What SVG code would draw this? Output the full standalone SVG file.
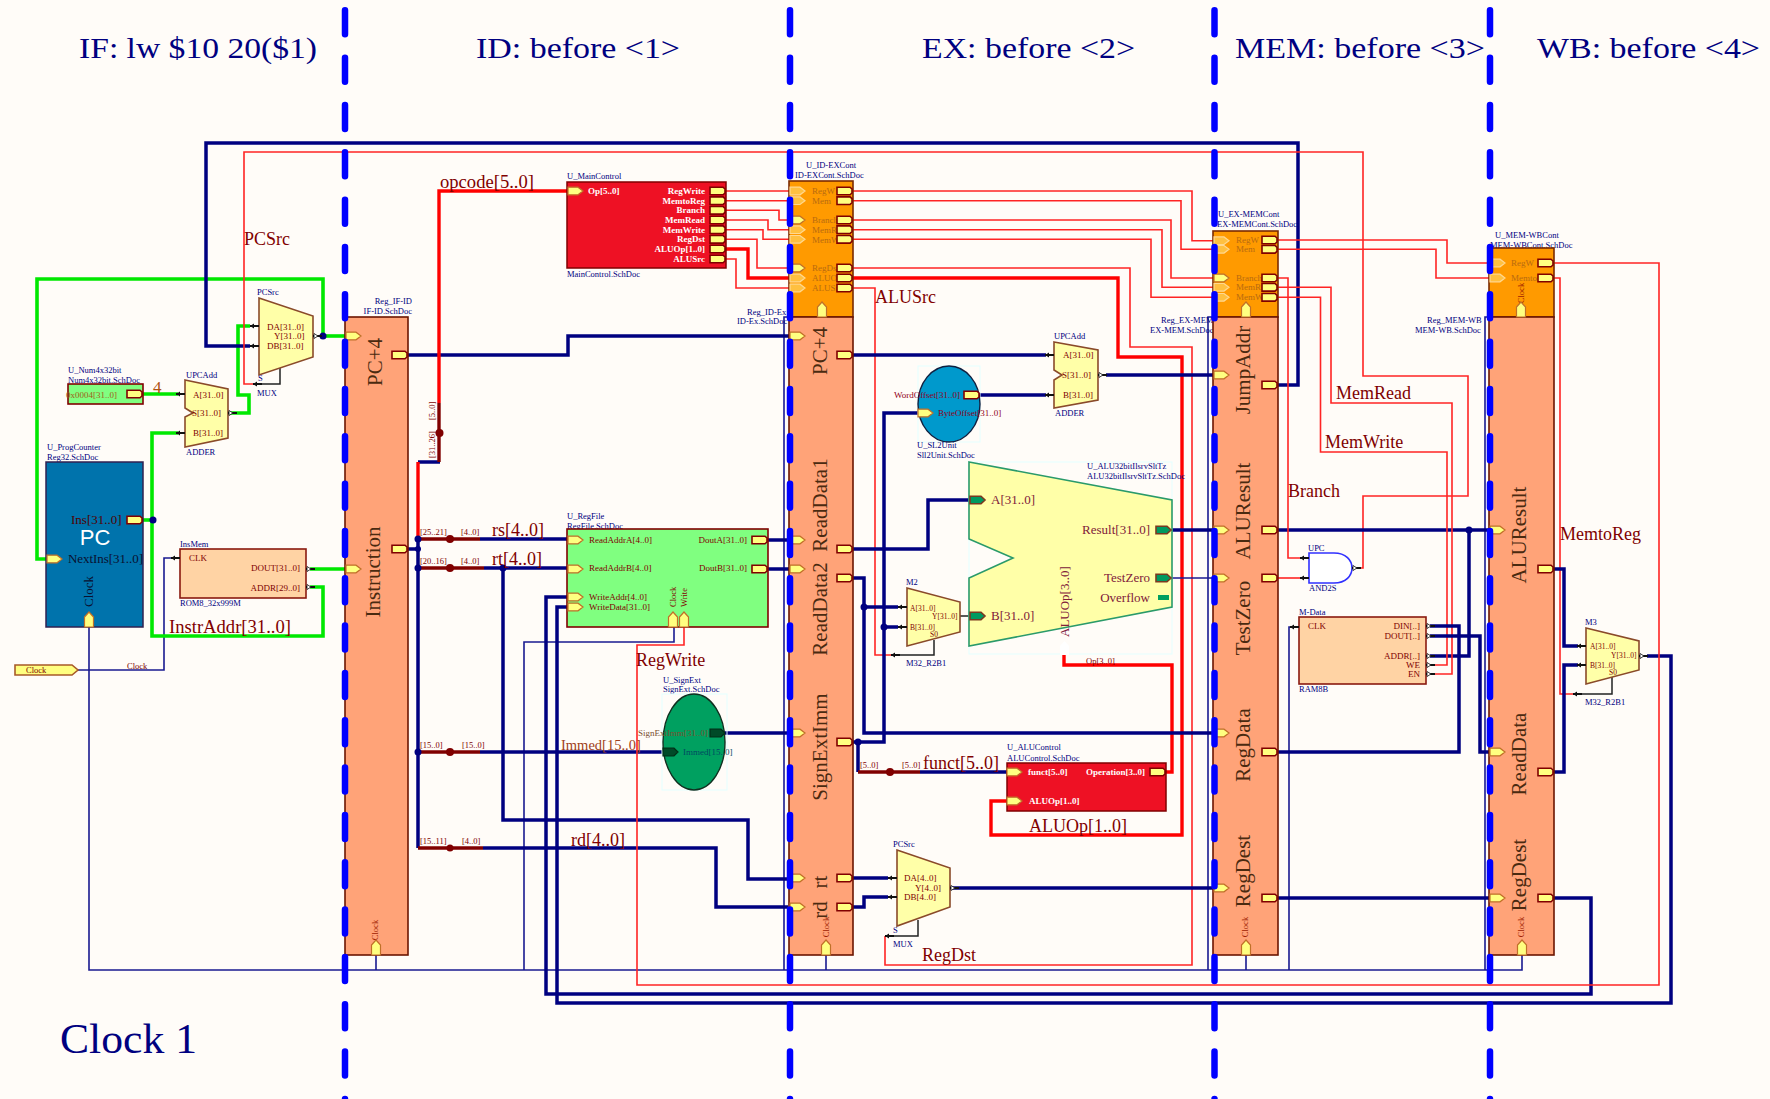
<svg xmlns="http://www.w3.org/2000/svg" width="1770" height="1099" viewBox="0 0 1770 1099">
<style>
text{font-family:"Liberation Serif","Times New Roman",serif}
.s{font-size:8.5px;fill:#000080}
.p{font-size:9px;fill:#800000}
.d{font-size:8.5px;fill:#800000}
.c{font-size:9px;fill:#b86a10}
.w{font-size:9px;fill:#fff;font-weight:bold}
.l{font-size:18px;fill:#800000}
.n{font-size:13px;fill:#500000}
.h{font-size:30px;fill:#000080}
.v{font-size:21px;fill:#4a2a10}
.ck{font-size:8.5px;fill:#a02000}
.e{text-anchor:end}
.m{text-anchor:middle}
.wire{fill:none;stroke-linejoin:miter}
.bb{stroke:#000080;stroke-width:3.5}
.tn{stroke:#1a1a90;stroke-width:1.6}
.rt{stroke:#ff2424;stroke-width:1.6}
.rb{stroke:#ff0000;stroke-width:3.4}
.gr{stroke:#00e800;stroke-width:3.6}
.dr{stroke:#800000;stroke-width:3.4}
.st{stroke:#222;stroke-width:1.5}
.reg{fill:#ffa378;stroke:#6b1500;stroke-width:1.6}
.ctl{fill:#ff9a00;stroke:#7a2a00;stroke-width:1.6}
.red{fill:#ee1124;stroke:#800000;stroke-width:1.5}
.mem{fill:#ffd3a4;stroke:#8a1a10;stroke-width:1.6}
.pale{fill:#ffffa8;stroke:#8a4a2a;stroke-width:1.6}
.dash{stroke:#0000ff;stroke-width:6.5;stroke-linecap:round;stroke-dasharray:24 23.33;fill:none}
.pi{fill:#ffff80;stroke:#c07028;stroke-width:1.2}
.po{fill:#ffff80;stroke:#800000;stroke-width:1.6}
.ci{fill:#ffc040;stroke:#ffd890;stroke-width:1.2}
.pg{fill:#009a60;stroke:#7a3a20;stroke-width:1.6}
.pk{fill:#004a28;stroke:#003018;stroke-width:1.2}
.dot{fill:#000080}
.dotr{fill:#800000}
</style>
<defs>
<path id="pi" class="pi" d="M0,-3.8H10L15,0L10,3.8H0Z"/>
<path id="ci" class="ci" d="M0,-3.8H10L15,0L10,3.8H0Z"/>
<path id="po" class="po" d="M0,-3.8H13L15,-2V2L13,3.8H0Z"/>
<path id="pu" class="pi" d="M-4.5,0V-10L0,-15L4.5,-10V0Z"/>
<path id="pg" class="pg" d="M0,-3.8H11L15,0L11,3.8H0Z"/>
<path id="pk" class="pk" d="M0,-3.8H11L15,0L11,3.8H0Z"/>
<g id="pin"><path d="M-9,0H0" stroke="#111" stroke-width="2" fill="none"/><path d="M-5,-2.5L-9,0L-5,2.5Z" fill="#111"/></g>
<g id="pot"><path d="M0,0H9" stroke="#111" stroke-width="2" fill="none"/><path d="M1,-2.5L5,0L1,2.5Z" fill="#fff" stroke="#111" stroke-width=".8"/></g>
</defs>
<rect width="1770" height="1099" fill="#fffcf8"/>

<g id="headers">
<text class="h" x="79" y="58" textLength="238" lengthAdjust="spacingAndGlyphs">IF: lw $10 20($1)</text>
<text class="h" x="476" y="58" textLength="204" lengthAdjust="spacingAndGlyphs">ID: before &lt;1&gt;</text>
<text class="h" x="922" y="58" textLength="213" lengthAdjust="spacingAndGlyphs">EX: before &lt;2&gt;</text>
<text class="h" x="1235" y="58" textLength="250" lengthAdjust="spacingAndGlyphs">MEM: before &lt;3&gt;</text>
<text class="h" x="1537" y="58" textLength="223" lengthAdjust="spacingAndGlyphs">WB: before &lt;4&gt;</text>
<text x="60" y="1053" font-size="42" fill="#000080" textLength="137" lengthAdjust="spacingAndGlyphs">Clock 1</text>
</g>

<g id="connectors" class="wire">
<!-- clock network -->
<path class="tn" d="M78,670H164V558H172"/>
<path class="tn" d="M89,627V970H1522V955"/>
<path class="tn" d="M376,955V970M826,955V970M1246,955V970"/>
<path class="tn" d="M674,627V642H524V970"/>
<path class="tn" d="M789,317H784V970M1213,317H1208V970M1489,317H1485V970"/>
<path class="tn" d="M1289,970V627H1297"/>
<!-- green IF -->
<path class="gr" d="M323,336V279H37V559H47"/>
<path class="gr" d="M323,336H346"/>
<path class="gr" d="M228,413H249V395H238V326H250"/>
<path class="gr" d="M143,394H178"/>
<path class="gr" d="M178,433H152V636H323V587H310"/>
<path class="gr" d="M142,520H153"/>
<path class="gr" d="M310,569H346"/>
<!-- big navy loops -->
<path class="bb" d="M1278,385H1298V143H206V346H250"/>
<path class="bb" d="M407,355H568V336H790"/>
<path class="bb" d="M1554,898H1591V994H546V597H568"/>
<path class="bb" d="M1647,656H1671V1003H557V607H568"/>
<!-- decode bus -->
<path class="bb" d="M407,549H418"/>
<path class="bb" d="M418,539V848"/>
<path class="bb" d="M418,462H440"/>
<path class="rb" d="M418,462V539"/>
<path class="rb" d="M568,191H439V403"/>
<path class="dr" d="M439,403V462"/>
<path class="dr" d="M418,539H480"/>
<path class="bb" d="M480,539H568"/>
<path class="dr" d="M418,568H484"/>
<path class="bb" d="M484,568H568"/>
<path class="bb" d="M503,568V820H748V879H788"/>
<path class="dr" d="M418,752H480"/>
<path class="bb" d="M480,752H662"/>
<path class="dr" d="M418,848H483"/>
<path class="bb" d="M483,848H716V907H788"/>
<path class="bb" d="M725,733H790"/>
<path class="bb" d="M768,540H790"/>
<path class="bb" d="M768,569H790"/>
<!-- RegWrite return -->
<path class="rt" d="M1554,263H1659V985H637V645H684V627"/>
<!-- main control to ID-EX -->
<path class="rt" d="M724,191H790"/>
<path class="rt" d="M724,200.7H790"/>
<path class="rt" d="M724,210.3H779V220H790"/>
<path class="rt" d="M724,220H768V229.7H790"/>
<path class="rt" d="M724,229.7H763V239.3H790"/>
<path class="rt" d="M724,239.3H757V268H790"/>
<path class="rb" d="M724,249H748V278H790"/>
<path class="rt" d="M724,259H736V288H790"/>
<!-- ID-EX to EX-MEM -->
<path class="rt" d="M853,191H1192V240.7H1214"/>
<path class="rt" d="M853,200.7H1181V249.3H1214"/>
<path class="rt" d="M853,220H1171V278H1214"/>
<path class="rt" d="M853,229.7H1162V287.3H1214"/>
<path class="rt" d="M853,239.3H1151V297.3H1214"/>
<path class="rt" d="M853,268H1130V347H1192V965H885V936"/>
<path class="rb" d="M853,278H1118V357H1182V835H991V801H1007"/>
<path class="rt" d="M853,288H875V655H900"/>
<path class="rb" d="M1064,655V665H1172V772H1165"/>
<!-- EX stage -->
<path class="bb" d="M853,355H1046"/>
<path class="bb" d="M979,395H1046"/>
<path class="bb" d="M1106,375H1214"/>
<path class="bb" d="M853,549H928V500H970"/>
<path class="bb" d="M853,578H864V733H1214"/>
<path class="bb" d="M864,607H898"/>
<path class="bb" d="M853,742H884V413H918"/>
<path class="bb" d="M884,627H898"/>
<path class="st" d="M960,616H970"/>
<path class="st" d="M900,655H934V640"/>
<path class="bb" d="M858,742V772"/>
<path class="dr" d="M858,772H920"/>
<path class="bb" d="M920,772H1007"/>
<path class="bb" d="M1170,530H1214"/>
<path class="tn" d="M1170,578H1214"/>
<path class="bb" d="M853,878H888"/>
<path class="bb" d="M853,907H864V897H888"/>
<path class="bb" d="M950,888H1214"/>
<path class="st" d="M918,920V936H888"/>
<path class="st" d="M280,368V384H255"/>
<!-- PCSrc -->
<path class="rt" d="M1352,568H1363V496H1468V376H1363V152H244V384H255"/>
<!-- MEM stage -->
<path class="bb" d="M1278,530H1490"/>
<path class="bb" d="M1469,530V656H1430"/>
<path class="rt" d="M1278,578H1308"/>
<path class="rt" d="M1278,278H1288V558H1308"/>
<path class="rt" d="M1278,287.3H1331V403H1452V674H1430"/>
<path class="rt" d="M1278,297.3H1320.5V452H1447V665H1430"/>
<path class="rt" d="M1278,240H1447V263H1490"/>
<path class="rt" d="M1278,249.3H1436V278H1490"/>
<path class="bb" d="M1278,752H1459V626H1430"/>
<path class="bb" d="M1430,636H1480V752H1490"/>
<path class="bb" d="M1278,898H1490"/>
<!-- WB -->
<path class="rt" d="M1554,278H1560V694H1580"/>
<path class="st" d="M1580,694H1612V676"/>
<path class="bb" d="M1554,569H1564V646H1578"/>
<path class="bb" d="M1554,772H1564V665H1578"/>
<!-- junction dots -->
<circle class="dot" cx="323" cy="336" r="3.5"/><circle class="dot" cx="153" cy="520" r="3.5"/>
<circle class="dot" cx="418" cy="539" r="3.5"/><circle class="dot" cx="418" cy="549" r="3"/><circle class="dot" cx="418" cy="568" r="3.5"/><circle class="dot" cx="418" cy="752" r="3.5"/>
<circle class="dot" cx="503" cy="568" r="3.5"/><circle class="dot" cx="864" cy="607" r="3.5"/><circle class="dot" cx="884" cy="627" r="3.5"/><circle class="dot" cx="858" cy="742" r="3.5"/><circle class="dot" cx="1469" cy="530" r="3.5"/>
<circle class="dotr" cx="439.5" cy="433" r="4"/><circle class="dotr" cx="450" cy="539" r="4"/><circle class="dotr" cx="450" cy="568" r="4"/><circle class="dotr" cx="450" cy="752" r="4"/><circle class="dotr" cx="450" cy="848" r="3.5"/><circle class="dotr" cx="890" cy="772" r="4"/>
</g>

<g id="wire-labels">
<text class="l" x="244" y="245">PCSrc</text>
<text x="153" y="393" font-size="17" fill="#b05010">4</text>
<text class="l" x="169" y="633" textLength="122" lengthAdjust="spacingAndGlyphs">InstrAddr[31..0]</text>
<text class="l" x="440" y="188" textLength="94" lengthAdjust="spacingAndGlyphs">opcode[5..0]</text>
<text class="l" x="492" y="536">rs[4..0]</text>
<text class="l" x="492" y="565">rt[4..0]</text>
<text class="l" x="571" y="846">rd[4..0]</text>
<text x="561" y="750" font-size="14.5" fill="#a0401a">Immed[15..0]</text>
<text class="l" x="636" y="666">RegWrite</text>
<text class="l" x="875" y="303">ALUSrc</text>
<text class="l" x="923" y="769">funct[5..0]</text>
<text class="l" x="1029" y="832">ALUOp[1..0]</text>
<text class="l" x="922" y="961">RegDst</text>
<text class="l" x="1336" y="399">MemRead</text>
<text class="l" x="1325" y="448">MemWrite</text>
<text class="l" x="1288" y="497">Branch</text>
<text class="l" x="1560" y="540">MemtoReg</text>
<text class="d" x="420" y="535">[25..21]</text><text class="d" x="461" y="535">[4..0]</text>
<text class="d" x="420" y="564">[20..16]</text><text class="d" x="461" y="564">[4..0]</text>
<text class="d" x="420" y="748">[15..0]</text><text class="d" x="462" y="748">[15..0]</text>
<text class="d" x="420" y="844">[15..11]</text><text class="d" x="462" y="844">[4..0]</text>
<text class="d" x="860" y="768">[5..0]</text><text class="d" x="902" y="768">[5..0]</text>
<text class="d" transform="translate(435,458) rotate(-90)">[31..26]</text>
<text class="d" transform="translate(435,420) rotate(-90)">[5..0]</text>
<text class="d" x="127" y="669">Clock</text>
<text class="d" x="1086" y="664">Op[3..0]</text>
</g>

<g id="node-clock"><path d="M15,665H72L78,670L72,675H15Z" fill="#ffff80" stroke="#a85a28" stroke-width="1.6"/><text class="d" x="26" y="673">Clock</text></g>

<g id="node-pc">
<text class="s" x="47" y="450">U_ProgCounter</text><text class="s" x="47" y="460">Reg32.SchDoc</text>
<rect x="46" y="462" width="97" height="165" fill="#0073ac" stroke="#302050" stroke-width="1.5"/>
<text class="n" x="71" y="524" fill="#222">Ins[31..0]</text>
<text x="95" y="545" class="m" font-size="22" fill="#fff" style="font-family:'Liberation Sans',Arial,sans-serif">PC</text>
<text class="n" x="68" y="563" style="fill:#0a1030" textLength="75">NextIns[31..0]</text>
<text class="n" style="fill:#0a1030" transform="translate(93,607) rotate(-90)">Clock</text>
<use href="#po" x="127" y="520"/><use href="#pi" x="47" y="559"/><use href="#pu" x="89" y="627"/>
</g>

<g id="node-num">
<text class="s" x="68" y="373">U_Num4x32bit</text><text class="s" x="68" y="383">Num4x32bit.SchDoc</text>
<rect x="68" y="384" width="75" height="20" fill="#80ff80" stroke="#800000" stroke-width="1.6"/>
<text class="p" x="66" y="398" style="fill:#a06018">0x0004[31..0]</text><use href="#po" x="127" y="394"/>
</g>

<g id="node-adder1">
<text class="s" x="186" y="378">UPCAdd</text>
<path class="pale" d="M185,380L228,389V438L185,447V417L193,413L185,408Z"/>
<text class="p" x="193" y="398">A[31..0]</text><text class="p" x="192" y="416">S[31..0]</text><text class="p" x="193" y="436">B[31..0]</text>
<text class="s" x="186" y="455">ADDER</text>
<use href="#pin" x="185" y="394"/><use href="#pin" x="185" y="433"/><use href="#pot" x="228" y="413"/>
</g>

<g id="node-mux-pc">
<text class="s" x="257" y="295">PCSrc</text>
<path class="pale" d="M259,298L313,316V357L259,375Z"/>
<text class="p" x="267" y="330">DA[31..0]</text><text class="p" x="274" y="339">Y[31..0]</text><text class="p" x="267" y="349">DB[31..0]</text>
<text class="s" x="258" y="381">S</text><text class="s" x="257" y="396">MUX</text>
<use href="#pin" x="259" y="326"/><use href="#pin" x="259" y="346"/><use href="#pin" x="262" y="384"/><use href="#pot" x="313" y="336"/>
</g>

<g id="node-insmem">
<text class="s" x="180" y="547">InsMem</text>
<rect x="180" y="549" width="126" height="49" class="mem"/>
<text class="p" x="189" y="561">CLK</text>
<text class="p e" x="300" y="571">DOUT[31..0]</text><text class="p e" x="300" y="591">ADDR[29..0]</text>
<text class="s" x="180" y="606">ROM8_32x999M</text>
<use href="#pin" x="180" y="558"/><use href="#pot" x="306" y="569"/><use href="#pot" x="306" y="587"/>
</g>

<g id="node-reg-ifid">
<text class="s e" x="412" y="304">Reg_IF-ID</text><text class="s e" x="412" y="314">IF-ID.SchDoc</text>
<rect x="345" y="317" width="63" height="638" class="reg"/>
<text class="v m" transform="translate(382,362) rotate(-90)">PC+4</text>
<text class="v m" transform="translate(380,572) rotate(-90)">Instruction</text>
<text class="ck m" transform="translate(378,930) rotate(-90)">Clock</text>
<use href="#pi" x="346" y="336"/><use href="#po" x="392" y="355"/><use href="#po" x="392" y="549"/><use href="#pi" x="346" y="569"/><use href="#pu" x="376" y="955"/>
</g>

<g id="node-maincontrol">
<text class="s" x="567" y="179">U_MainControl</text>
<rect x="567" y="182" width="159" height="86" class="red"/>
<text class="w" x="588" y="194">Op[5..0]</text>
<text class="w e" x="705" y="194">RegWrite</text><text class="w e" x="705" y="204">MemtoReg</text><text class="w e" x="705" y="213">Branch</text><text class="w e" x="705" y="223">MemRead</text><text class="w e" x="705" y="233">MemWrite</text><text class="w e" x="705" y="242">RegDst</text><text class="w e" x="705" y="252">ALUOp[1..0]</text><text class="w e" x="705" y="262">ALUSrc</text>
<use href="#pi" x="568" y="191"/>
<use href="#po" x="710" y="191"/><use href="#po" x="710" y="200.7"/><use href="#po" x="710" y="210.3"/><use href="#po" x="710" y="220"/><use href="#po" x="710" y="229.7"/><use href="#po" x="710" y="239.3"/><use href="#po" x="710" y="249"/><use href="#po" x="710" y="259"/>
<text class="s" x="567" y="277">MainControl.SchDoc</text>
</g>

<g id="node-regfile">
<text class="s" x="567" y="519">U_RegFile</text><text class="s" x="567" y="529">RegFile.SchDoc</text>
<rect x="567" y="529" width="201" height="98" fill="#80ff80" stroke="#800000" stroke-width="1.6"/>
<text class="p" x="589" y="543">ReadAddrA[4..0]</text><text class="p" x="589" y="571">ReadAddrB[4..0]</text><text class="p" x="589" y="600">WriteAddr[4..0]</text><text class="p" x="589" y="610">WriteData[31..0]</text>
<text class="p e" x="747" y="543">DoutA[31..0]</text><text class="p e" x="747" y="571">DoutB[31..0]</text>
<text class="ck" transform="translate(676,607) rotate(-90)" style="fill:#800000">Clock</text><text class="ck" transform="translate(687,607) rotate(-90)" style="fill:#800000">Write</text>
<use href="#pi" x="568" y="540"/><use href="#pi" x="568" y="569"/><use href="#pi" x="568" y="597"/><use href="#pi" x="568" y="607"/>
<use href="#po" x="752" y="540"/><use href="#po" x="752" y="569"/><use href="#pu" x="673" y="627"/><use href="#pu" x="684" y="627"/>
</g>

<g id="node-signext">
<text class="s" x="663" y="683">U_SignExt</text><text class="s" x="663" y="692">SignExt.SchDoc</text>
<rect x="662" y="694" width="65" height="96" fill="none" stroke="#e4ffff" stroke-width="1"/>
<ellipse cx="694" cy="742" rx="31" ry="48" fill="#00a060" stroke="#103020" stroke-width="1.4"/>
<text class="p e" x="708" y="736" style="fill:#7a5030">SignExtImm[31..0]</text><text class="p" x="683" y="755" style="fill:#004a60">Immed[15..0]</text>
<use href="#pk" x="710" y="733"/><use href="#pk" x="663" y="752"/>
</g>

<g id="node-reg-idex">
<text class="s" x="806" y="168">U_ID-EXCont</text><text class="s" x="795" y="178">ID-EXCont.SchDoc</text>
<text class="s" x="747" y="315">Reg_ID-Ex</text><text class="s" x="737" y="324">ID-Ex.SchDoc</text>
<rect x="789" y="181" width="64" height="136" class="ctl"/>
<rect x="789" y="317" width="64" height="638" class="reg"/>
<text class="c" x="812" y="194">RegW</text><text class="c" x="812" y="204">Mem</text><text class="c" x="812" y="223">Branch</text><text class="c" x="812" y="233">MemR</text><text class="c" x="812" y="243">MemW</text><text class="c" x="812" y="271">RegDst</text><text class="c" x="812" y="281">ALUOp</text><text class="c" x="812" y="291">ALUSrc</text>
<use href="#ci" x="790" y="191"/><use href="#ci" x="790" y="200.7"/><use href="#pi" x="790" y="220"/><use href="#ci" x="790" y="229.7"/><use href="#ci" x="790" y="239.3"/><use href="#pi" x="790" y="268"/><use href="#ci" x="790" y="278"/><use href="#ci" x="790" y="288"/>
<use href="#po" x="837" y="191"/><use href="#po" x="837" y="200.7"/><use href="#po" x="837" y="220"/><use href="#po" x="837" y="229.7"/><use href="#po" x="837" y="239.3"/><use href="#po" x="837" y="268"/><use href="#po" x="837" y="278"/><use href="#po" x="837" y="288"/>
<use href="#pu" x="822" y="317"/>
<text class="v m" transform="translate(827,351) rotate(-90)">PC+4</text>
<text class="v m" transform="translate(827,505) rotate(-90)">ReadData1</text>
<text class="v m" transform="translate(827,609) rotate(-90)">ReadData2</text>
<text class="v m" transform="translate(827,747) rotate(-90)">SignExtImm</text>
<text class="v m" transform="translate(827,882) rotate(-90)">rt</text>
<text class="v m" transform="translate(827,910) rotate(-90)">rd</text>
<text class="ck m" transform="translate(829,927) rotate(-90)">Clock</text>
<use href="#pi" x="790" y="336"/><use href="#pi" x="790" y="540"/><use href="#pi" x="790" y="569"/><use href="#pi" x="790" y="733"/><use href="#pi" x="790" y="878"/><use href="#pi" x="790" y="907"/>
<use href="#po" x="837" y="355"/><use href="#po" x="837" y="549"/><use href="#po" x="837" y="578"/><use href="#po" x="837" y="742"/><use href="#po" x="837" y="878"/><use href="#po" x="837" y="907"/><use href="#pu" x="826" y="955"/>
</g>

<g id="node-sl2">
<rect x="918" y="366" width="62" height="76" fill="none" stroke="#e4ffff"/>
<ellipse cx="949" cy="404" rx="31" ry="38" fill="#0099cc" stroke="#102040" stroke-width="1.4"/>
<text class="p e" x="960" y="398" style="fill:#900020">WordOffset[31..0]</text><text class="p" x="938" y="416" style="fill:#900020">ByteOffset[31..0]</text>
<use href="#po" x="964" y="395"/><use href="#pi" x="918" y="413"/>
<text class="s" x="917" y="448">U_SL2Unit</text><text class="s" x="917" y="458">Sll2Unit.SchDoc</text>
</g>

<g id="node-adder2">
<text class="s" x="1054" y="339">UPCAdd</text>
<path class="pale" d="M1054,342L1098,350V400L1054,408V380L1062,375L1054,370Z"/>
<text class="p" x="1063" y="358">A[31..0]</text><text class="p" x="1062" y="378">S[31..0]</text><text class="p" x="1063" y="398">B[31..0]</text>
<text class="s" x="1055" y="416">ADDER</text>
<use href="#pin" x="1054" y="355"/><use href="#pin" x="1054" y="395"/><use href="#pot" x="1098" y="375"/>
</g>

<g id="node-m2">
<text class="s" x="906" y="585">M2</text>
<path class="pale" d="M907,588L960,602V632L907,646Z"/>
<text class="p" x="910" y="611" style="font-size:7.5px">A[31..0]</text><text class="p" x="932" y="619" style="font-size:7.5px">Y[31..0]</text><text class="p" x="910" y="630" style="font-size:7.5px">B[31..0]</text><text class="p" x="930" y="637" style="font-size:7.5px">S0</text>
<text class="s" x="906" y="666">M32_R2B1</text>
<use href="#pin" x="907" y="607"/><use href="#pin" x="907" y="627"/><use href="#pin" x="900" y="655"/>
</g>

<g id="node-alu">
<rect x="969" y="462" width="203" height="192" fill="none" stroke="#e4ffff"/>
<path d="M969,462L1172,500V607L969,646V578L1013,558L969,539Z" fill="#ffffa8" stroke="#2a9a6a" stroke-width="1.6"/>
<text class="s" x="1087" y="469">U_ALU32bitIlsrvSltTz</text><text class="s" x="1087" y="479">ALU32bitIlsrvSltTz.SchDoc</text>
<text class="n" x="991" y="504" style="fill:#80203a">A[31..0]</text><text class="n" x="991" y="620" style="fill:#80203a">B[31..0]</text>
<text class="n e" x="1150" y="534" style="fill:#80203a">Result[31..0]</text><text class="n e" x="1150" y="582" style="fill:#80203a">TestZero</text><text class="n e" x="1150" y="602" style="fill:#80203a">Overflow</text>
<text class="n" transform="translate(1069,637) rotate(-90)" style="fill:#80203a">ALUOp[3..0]</text>
<use href="#pg" x="970" y="500"/><use href="#pg" x="970" y="616"/><use href="#pg" x="1156" y="530"/><use href="#pg" x="1156" y="578"/>
<rect x="1158" y="595" width="11" height="5" fill="#00a060"/>
<path d="M1060,655V646L1064.500,641L1069,646V655Z" fill="#fff"/>
</g>

<g id="node-alucontrol">
<text class="s" x="1007" y="750">U_ALUControl</text><text class="s" x="1007" y="761">ALUControl.SchDoc</text>
<rect x="1007" y="763" width="159" height="48" class="red"/>
<text class="w" x="1028" y="775">funct[5..0]</text><text class="w e" x="1145" y="775">Operation[3..0]</text><text class="w" x="1029" y="804">ALUOp[1..0]</text>
<use href="#pi" x="1007" y="772"/><use href="#po" x="1150" y="772"/><use href="#pi" x="1007" y="801"/>
</g>

<g id="node-mux-regdst">
<text class="s" x="893" y="847">PCSrc</text>
<path class="pale" d="M897,850L950,868V907L897,926Z"/>
<text class="p" x="904" y="881">DA[4..0]</text><text class="p" x="915" y="891">Y[4..0]</text><text class="p" x="904" y="900">DB[4..0]</text>
<text class="s" x="893" y="933">S</text><text class="s" x="893" y="947">MUX</text>
<use href="#pin" x="897" y="878"/><use href="#pin" x="897" y="897"/><use href="#pin" x="894" y="936"/><use href="#pot" x="950" y="888"/>
</g>

<g id="node-reg-exmem">
<text class="s" x="1218" y="217">U_EX-MEMCont</text><text class="s" x="1217" y="227">EX-MEMCont.SchDoc</text>
<text class="s" x="1161" y="323">Reg_EX-MEM</text><text class="s" x="1150" y="333">EX-MEM.SchDoc</text>
<rect x="1213" y="231" width="65" height="86" class="ctl"/>
<rect x="1213" y="317" width="65" height="638" class="reg"/>
<text class="c" x="1236" y="243">RegW</text><text class="c" x="1236" y="252">Mem</text><text class="c" x="1236" y="281">Branch</text><text class="c" x="1236" y="290">MemR</text><text class="c" x="1236" y="300">MemW</text>
<use href="#ci" x="1214" y="240.7"/><use href="#ci" x="1214" y="249.3"/><use href="#pi" x="1214" y="278"/><use href="#ci" x="1214" y="287.3"/><use href="#ci" x="1214" y="297.3"/>
<use href="#po" x="1262" y="240"/><use href="#po" x="1262" y="249.3"/><use href="#po" x="1262" y="278"/><use href="#po" x="1262" y="287.3"/><use href="#po" x="1262" y="297.3"/>
<use href="#pu" x="1246" y="317"/>
<text class="v m" transform="translate(1250,370) rotate(-90)">JumpAddr</text>
<text class="v m" transform="translate(1250,511) rotate(-90)">ALUResult</text>
<text class="v m" transform="translate(1250,618) rotate(-90)">TestZero</text>
<text class="v m" transform="translate(1250,745) rotate(-90)">RegData</text>
<text class="v m" transform="translate(1250,871) rotate(-90)">RegDest</text>
<text class="ck m" transform="translate(1248,927) rotate(-90)">Clock</text>
<use href="#pi" x="1214" y="375"/><use href="#pi" x="1214" y="530"/><use href="#pi" x="1214" y="578"/><use href="#pi" x="1214" y="733"/><use href="#pi" x="1214" y="888"/>
<use href="#po" x="1262" y="385"/><use href="#po" x="1262" y="530"/><use href="#po" x="1262" y="578"/><use href="#po" x="1262" y="752"/><use href="#po" x="1262" y="898"/><use href="#pu" x="1246" y="955"/>
</g>

<g id="node-and">
<text class="s" x="1308" y="551">UPC</text>
<path d="M1309,553H1334C1358,553 1358,583 1334,583H1309Z" fill="#fff" stroke="#3030ff" stroke-width="1.6"/>
<text class="s" x="1309" y="591">AND2S</text>
<use href="#pin" x="1309" y="558"/><use href="#pin" x="1309" y="578"/><use href="#pot" x="1352" y="568"/>
</g>

<g id="node-ram">
<text class="s" x="1299" y="615">M-Data</text>
<rect x="1299" y="617" width="127" height="67" class="mem"/>
<text class="p" x="1308" y="629">CLK</text>
<text class="p e" x="1420" y="629">DIN[..]</text><text class="p e" x="1420" y="639">DOUT[..]</text><text class="p e" x="1420" y="659">ADDR[..]</text><text class="p e" x="1420" y="668">WE</text><text class="p e" x="1420" y="677">EN</text>
<text class="s" x="1299" y="692">RAM8B</text>
<use href="#pin" x="1299" y="627"/>
<use href="#pot" x="1426" y="626"/><use href="#pot" x="1426" y="636"/><use href="#pot" x="1426" y="656"/><use href="#pot" x="1426" y="665"/><use href="#pot" x="1426" y="674"/>
</g>

<g id="node-reg-memwb">
<text class="s" x="1495" y="238">U_MEM-WBCont</text><text class="s" x="1490" y="248">MEM-WBCont.SchDoc</text>
<text class="s" x="1427" y="323">Reg_MEM-WB</text><text class="s" x="1415" y="333">MEM-WB.SchDoc</text>
<rect x="1489" y="248" width="65" height="69" class="ctl"/>
<rect x="1489" y="317" width="65" height="638" class="reg"/>
<text class="c" x="1511" y="266">RegW</text><text class="c" x="1511" y="281">Memto</text>
<text class="ck m" transform="translate(1524,293) rotate(-90)">Clock</text>
<use href="#ci" x="1490" y="263"/><use href="#ci" x="1490" y="278"/>
<use href="#po" x="1538" y="263"/><use href="#po" x="1538" y="278"/>
<use href="#pu" x="1521" y="317"/>
<text class="v m" transform="translate(1526,535) rotate(-90)">ALUResult</text>
<text class="v m" transform="translate(1526,754) rotate(-90)">ReadData</text>
<text class="v m" transform="translate(1526,875) rotate(-90)">RegDest</text>
<text class="ck m" transform="translate(1524,927) rotate(-90)">Clock</text>
<use href="#pi" x="1490" y="530"/><use href="#pi" x="1490" y="752"/><use href="#pi" x="1490" y="898"/>
<use href="#po" x="1538" y="569"/><use href="#po" x="1538" y="772"/><use href="#po" x="1538" y="898"/><use href="#pu" x="1522" y="955"/>
</g>

<g id="node-m3">
<text class="s" x="1585" y="625">M3</text>
<path class="pale" d="M1586,628L1639,641V670L1586,684Z"/>
<text class="p" x="1590" y="649" style="font-size:7.500px">A[31..0]</text><text class="p" x="1611" y="658" style="font-size:7.5px">Y[31..0]</text><text class="p" x="1590" y="668" style="font-size:7.5px">B[31..0]</text><text class="p" x="1609" y="675" style="font-size:7.5px">S0</text>
<text class="s" x="1585" y="705">M32_R2B1</text>
<use href="#pin" x="1586" y="646"/><use href="#pin" x="1586" y="665"/><use href="#pin" x="1582" y="694"/><use href="#pot" x="1639" y="656"/>
</g>

<g id="stage-dividers">
<path class="dash" d="M345,-37V1105M790,-37V1105M1214.500,-37V1105M1490,-37V1105"/>
</g>
</svg>
